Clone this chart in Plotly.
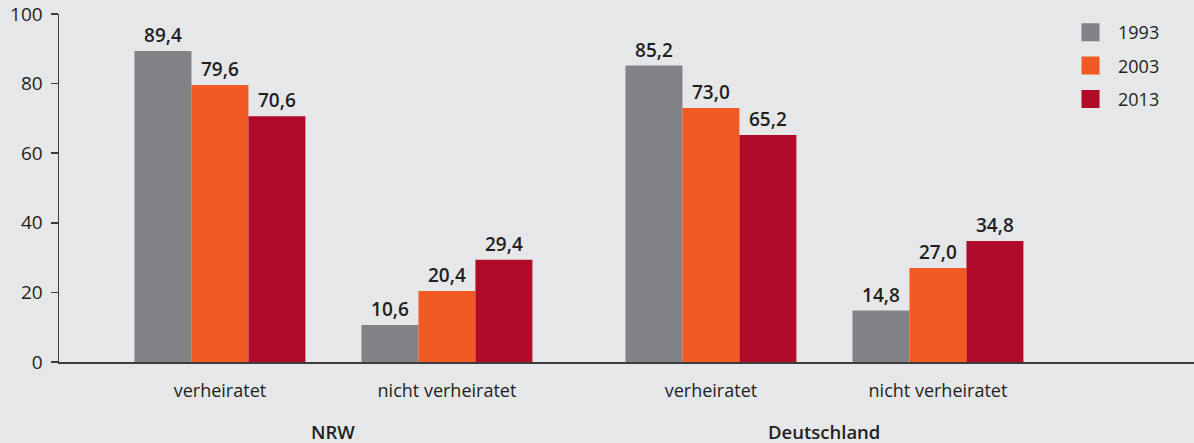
import plotly.graph_objects as go

# ---- data ----
categories = ["verheiratet", "nicht verheiratet", "verheiratet", "nicht verheiratet"]
regions = ["NRW", "Deutschland"]
years = ["1993", "2003", "2013"]
values_1993 = [89.4, 10.6, 85.2, 14.8]
values_2003 = [79.6, 20.4, 73.0, 27.0]
values_2013 = [70.6, 29.4, 65.2, 34.8]
y_ticks = [0, 20, 40, 60, 80, 100]

series = [values_1993, values_2003, values_2013]
colors = ["#828387", "#f15a22", "#b00b28"]

# ---- layout helpers ----
group_gap = 1.163          # distance between region blocks (category units)
x_pos = [0.0, 1.0, 1.0 + group_gap, 2.0 + group_gap]
bar_w = 0.251
text_color = "#231f20"
bg = "#e6e7e9"
font_family = "Open Sans, Liberation Sans, sans-serif"


def de(v):
    return f"{v:.1f}".replace(".", ",")


fig = go.Figure()
n = len(series)
for i, (vals, name, col) in enumerate(zip(series, years, colors)):
    fig.add_trace(go.Bar(
        x=x_pos, y=vals, name=name,
        width=bar_w, offset=(-n / 2 + i) * bar_w,
        marker=dict(color=col, line=dict(width=0)),
        text=[de(v) for v in vals], textposition="outside",
        textfont=dict(size=19, color=text_color, family=font_family, weight=600),
        cliponaxis=False, showlegend=False, hoverinfo="skip",
    ))
    # legend entry with larger square swatch
    fig.add_trace(go.Scatter(
        x=[None], y=[None], mode="markers", name=name,
        legendgroup=name,
        marker=dict(symbol="square", size=16, color=col, line=dict(color=col, width=2)),
    ))

region_centers = [(x_pos[0] + x_pos[1]) / 2, (x_pos[2] + x_pos[3]) / 2]
for xc, r in zip(region_centers, regions):
    fig.add_annotation(
        x=xc, xref="x", y=-0.201, yref="paper", text=r,
        showarrow=False, yanchor="middle", xanchor="center",
        font=dict(size=18.5, color=text_color, family=font_family, weight=600),
    )

fig.update_layout(
    width=1194, height=443,
    margin=dict(l=59, r=0, t=14, b=81),
    paper_bgcolor=bg, plot_bgcolor=bg,
    font=dict(family=font_family, size=18, color=text_color),
    barmode="overlay",
    legend=dict(
        x=0.8846, xanchor="left", y=1.0, yanchor="top",
        itemwidth=45, tracegroupgap=7, bgcolor="rgba(0,0,0,0)",
        font=dict(size=18, color=text_color),
    ),
    xaxis=dict(
        range=[-0.709, 4.291], tickvals=x_pos, ticktext=categories,
        showline=True, linecolor="#3c3c3c", linewidth=1.5,
        ticks="", showgrid=False, zeroline=False, ticklabelstandoff=12,
        tickfont=dict(size=18, color=text_color),
    ),
    yaxis=dict(
        range=[0, 100], tickvals=y_ticks,
        showline=True, linecolor="#3c3c3c", linewidth=1.5,
        ticks="outside", ticklen=7, tickcolor="#3c3c3c", tickwidth=1.5,
        showgrid=False, zeroline=False, ticklabelstandoff=4,
        ticklabeloverflow="allow",
        tickfont=dict(size=19, color=text_color),
    ),
)

page_css = (
    "document.body.style.margin='0';"
    "document.body.style.padding='0';"
    "document.body.style.overflow='hidden';"
    "document.body.style.background='" + bg + "';"
)
fig.write_html("out.html", post_script=page_css,
               config={"displayModeBar": False, "staticPlot": True})
